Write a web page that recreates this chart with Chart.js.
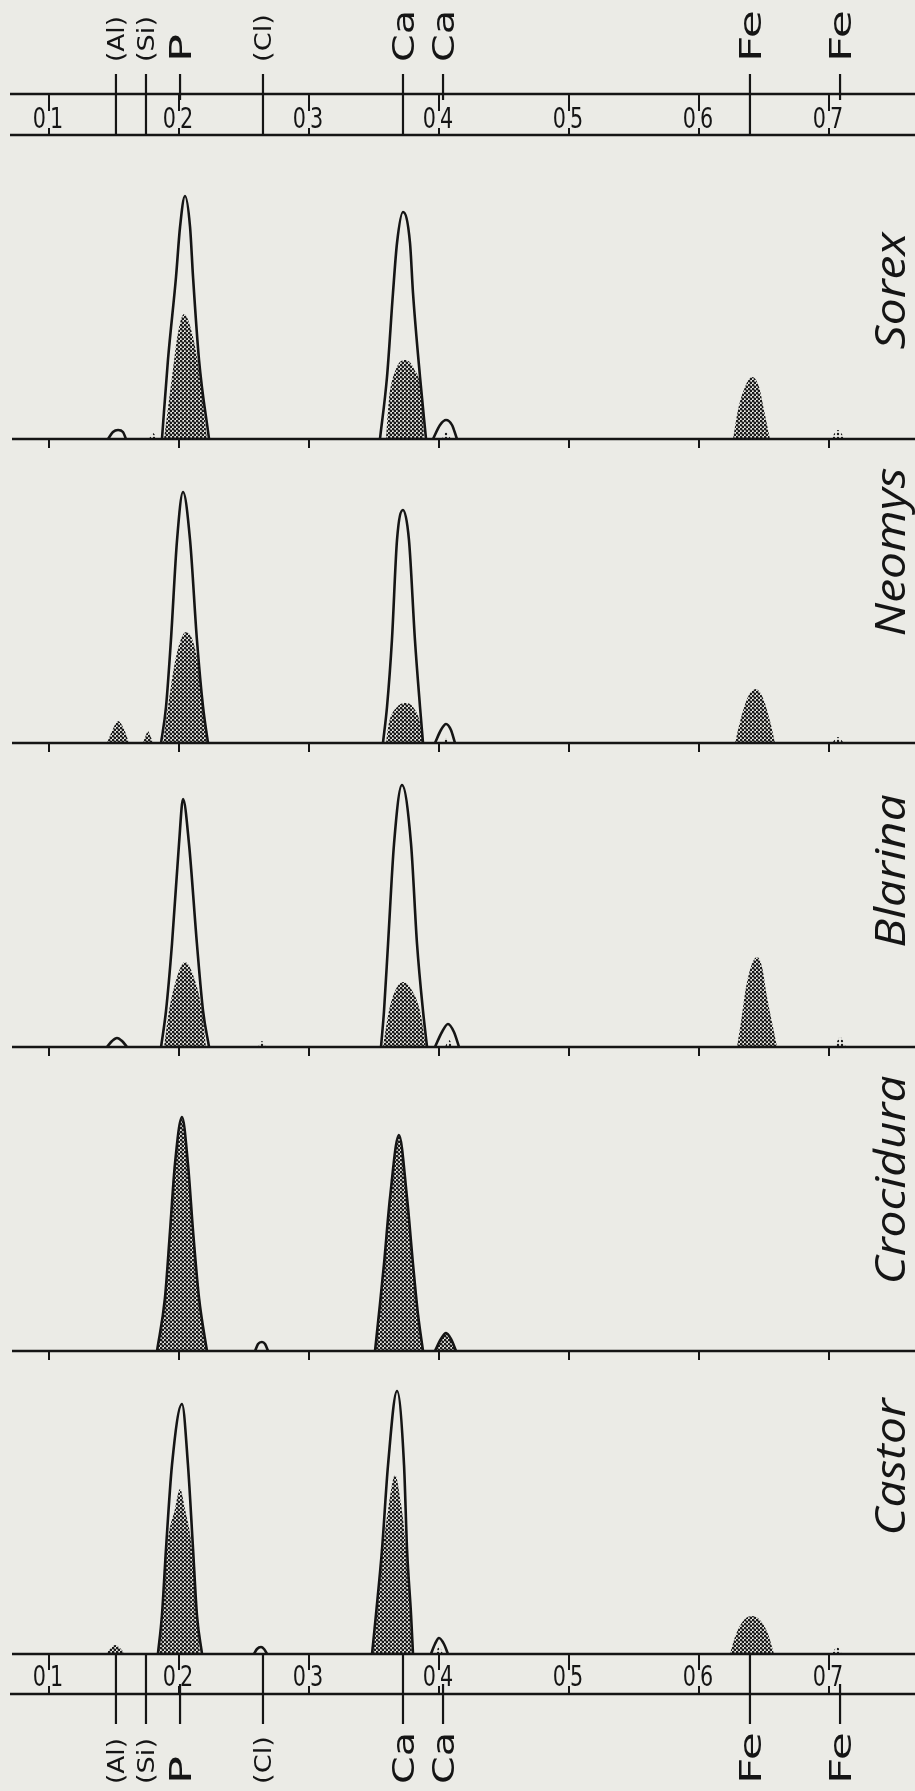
<!DOCTYPE html>
<html>
<head>
<meta charset="utf-8">
<script src="https://cdn.jsdelivr.net/npm/chart.js@4.4.0/dist/chart.umd.min.js"></script>
<style>
  html, body { margin: 0; padding: 0; background: #ebebe6; }
  #wrap { position: relative; width: 915px; height: 1791px; overflow: hidden; }
  #wrap canvas { position: absolute; left: 0; }
</style>
</head>
<body>
<div id="wrap"></div>
<script>
// energy axis (keV/10) and the element lines
const tickValues = [0.1, 0.2, 0.3, 0.4, 0.5, 0.6, 0.7];
const tickLabels = ['0,1', '0,2', '0,3', '0,4', '0,5', '0,6', '0,7'];
const elementNames = ['(Al)', '(Si)', 'P', '(Cl)', 'Ca', 'Ca', 'Fe', 'Fe'];
const elementEnergy = [0.1515, 0.1746, 0.2008, 0.2646, 0.3723, 0.4031, 0.6392, 0.7085];
const elementThrough = [true, true, false, true, true, false, true, false];
const species = ['Sorex', 'Neomys', 'Blarina', 'Crocidura', 'Castor'];

// peaks as [energy, height] -- open = outline only, shaded = dense dots, sparse = light dots
const sorexOpen = [
  [[0.1454, 0], [0.1492, 7], [0.1531, 9], [0.1569, 7], [0.1592, 0]],
  [[0.1869, 0], [0.1915, 79], [0.1977, 162], [0.2008, 212], [0.2046, 243], [0.2085, 212], [0.2108, 162], [0.2154, 79], [0.2231, 0]],
  [[0.3546, 0], [0.3600, 62], [0.3646, 146], [0.3677, 196], [0.3723, 227], [0.3777, 196], [0.3800, 146], [0.3854, 62], [0.3900, 0]],
  [[0.3954, 0], [0.4008, 14], [0.4054, 19], [0.4100, 14], [0.4138, 0]]
];
const sorexShaded = [
  [[0.1885, 0], [0.1946, 62], [0.1992, 106], [0.2038, 125], [0.2100, 106], [0.2162, 62], [0.2215, 0]],
  [[0.3592, 0], [0.3615, 39], [0.3669, 70], [0.3738, 79], [0.3808, 70], [0.3869, 39], [0.3885, 0]],
  [[0.6262, 0], [0.6300, 29], [0.6354, 52], [0.6408, 62], [0.6462, 52], [0.6500, 29], [0.6546, 0]]
];
const sorexSparse = [
  [[0.1769, 0], [0.1800, 6], [0.1831, 0]],
  [[0.4023, 0], [0.4054, 7], [0.4092, 0]],
  [[0.7015, 0], [0.7069, 9], [0.7123, 0]]
];

const neomysOpen = [
  [[0.1862, 0], [0.1900, 36], [0.1938, 103], [0.1985, 203], [0.2031, 251], [0.2085, 203], [0.2138, 103], [0.2185, 36], [0.2223, 0]],
  [[0.3569, 0], [0.3600, 36], [0.3638, 103], [0.3677, 203], [0.3723, 233], [0.3769, 203], [0.3815, 103], [0.3854, 36], [0.3877, 0]],
  [[0.3969, 0], [0.4015, 13], [0.4054, 19], [0.4092, 13], [0.4123, 0]]
];
const neomysShaded = [
  [[0.1446, 0], [0.1492, 14], [0.1531, 22], [0.1577, 14], [0.1615, 0]],
  [[0.1723, 0], [0.1746, 8], [0.1761, 12], [0.1777, 8], [0.1800, 0]],
  [[0.1877, 0], [0.1915, 36], [0.1977, 86], [0.2054, 111], [0.2138, 86], [0.2185, 36], [0.2215, 0]],
  [[0.3592, 0], [0.3615, 20], [0.3677, 36], [0.3738, 40], [0.3800, 36], [0.3854, 20], [0.3877, 0]],
  [[0.6277, 0], [0.6323, 25], [0.6380, 47], [0.6438, 54], [0.6492, 45], [0.6546, 22], [0.6585, 0]]
];
const neomysSparse = [
  [[0.4031, 0], [0.4054, 5], [0.4077, 0]],
  [[0.7023, 0], [0.7069, 6], [0.7115, 0]]
];

const blarinaOpen = [
  [[0.1446, 0], [0.1485, 6], [0.1523, 9], [0.1562, 6], [0.1600, 0]],
  [[0.1862, 0], [0.1900, 36], [0.1946, 103], [0.2000, 203], [0.2031, 248], [0.2077, 203], [0.2138, 103], [0.2185, 36], [0.2231, 0]],
  [[0.3554, 0], [0.3577, 36], [0.3608, 103], [0.3654, 203], [0.3715, 262], [0.3785, 203], [0.3831, 103], [0.3877, 36], [0.3908, 0]],
  [[0.3969, 0], [0.4023, 15], [0.4069, 23], [0.4115, 15], [0.4154, 0]]
];
const blarinaShaded = [
  [[0.1885, 0], [0.1923, 36], [0.1969, 63], [0.2046, 85], [0.2131, 63], [0.2177, 36], [0.2208, 0]],
  [[0.3569, 0], [0.3615, 36], [0.3669, 58], [0.3723, 65], [0.3785, 58], [0.3854, 36], [0.3900, 0]],
  [[0.6292, 0], [0.6323, 25], [0.6362, 60], [0.6410, 84], [0.6446, 90], [0.6485, 80], [0.6523, 50], [0.6569, 20], [0.6600, 0]]
];
const blarinaSparse = [
  [[0.2608, 0], [0.2638, 6], [0.2669, 0]],
  [[0.4046, 0], [0.4077, 7], [0.4108, 0]],
  [[0.7046, 0], [0.7085, 10], [0.7131, 0]]
];

const crociduraOpen = [
  [[0.2585, 0], [0.2608, 7], [0.2638, 9], [0.2662, 7], [0.2685, 0]]
];
const crociduraShaded = [
  [[0.1831, 0], [0.1892, 53], [0.1931, 120], [0.1969, 187], [0.2023, 234], [0.2069, 187], [0.2108, 120], [0.2154, 53], [0.2215, 0]],
  [[0.3508, 0], [0.3538, 37], [0.3577, 87], [0.3623, 153], [0.3692, 216], [0.3754, 153], [0.3800, 87], [0.3838, 37], [0.3877, 0]],
  [[0.3969, 0], [0.4015, 12], [0.4054, 18], [0.4092, 12], [0.4131, 0]]
];
const crociduraSparse = [];

const castorOpen = [
  [[0.1838, 0], [0.1869, 39], [0.1900, 105], [0.1946, 189], [0.2023, 250], [0.2069, 189], [0.2108, 105], [0.2138, 39], [0.2177, 0]],
  [[0.2577, 0], [0.2600, 5], [0.2631, 7], [0.2654, 5], [0.2677, 0]],
  [[0.3485, 0], [0.3515, 39], [0.3562, 105], [0.3608, 189], [0.3677, 263], [0.3731, 189], [0.3754, 105], [0.3785, 39], [0.3800, 0]],
  [[0.3938, 0], [0.3969, 10], [0.4000, 16], [0.4038, 10], [0.4069, 0]]
];
const castorShaded = [
  [[0.1438, 0], [0.1477, 6], [0.1508, 9], [0.1546, 6], [0.1585, 0]],
  [[0.1846, 0], [0.1877, 39], [0.1908, 105], [0.1969, 145], [0.2008, 165], [0.2046, 145], [0.2100, 105], [0.2138, 39], [0.2162, 0]],
  [[0.3492, 0], [0.3523, 39], [0.3569, 105], [0.3615, 150], [0.3662, 179], [0.3708, 150], [0.3746, 105], [0.3777, 39], [0.3792, 0]],
  [[0.6238, 0], [0.6285, 20], [0.6346, 34], [0.6408, 38], [0.6469, 34], [0.6531, 20], [0.6577, 0]]
];
const castorSparse = [
  [[0.3977, 0], [0.4000, 8], [0.4031, 0]],
  [[0.7023, 0], [0.7062, 7], [0.7100, 0]]
];

// layout
const W = 915, H = 1791;
const X_MIN = 0.1 - 49 / 1300, X_MAX = X_MIN + W / 1300;
const topBarBottom = 135;
const baselines = [439, 743, 1047, 1351, 1654];
const labelCenters = [291, 552, 871, 1180, 1467];
const INK = '#151515';

function makePattern(dense) {
  const c = document.createElement('canvas');
  c.width = 4; c.height = 4;
  const g = c.getContext('2d');
  g.fillStyle = '#1a1a1a';
  const dot = (x, y, r) => { g.beginPath(); g.arc(x, y, r, 0, Math.PI * 2); g.fill(); };
  if (dense) {
    dot(1, 1, 1.4);
    dot(3, 3, 1.4);
  } else {
    dot(2, 2, 1.2);
  }
  return g.createPattern(c, 'repeat');
}
const densePattern = makePattern(true);
const sparsePattern = makePattern(false);

const panels = [
  { open: sorexOpen, shaded: sorexShaded, sparse: sorexSparse, outlined: false },
  { open: neomysOpen, shaded: neomysShaded, sparse: neomysSparse, outlined: false },
  { open: blarinaOpen, shaded: blarinaShaded, sparse: blarinaSparse, outlined: false },
  { open: crociduraOpen, shaded: crociduraShaded, sparse: crociduraSparse, outlined: true },
  { open: castorOpen, shaded: castorShaded, sparse: castorSparse, outlined: false }
];

function vLabel(ctx, text, cx, yStart, font, capH, len) {
  ctx.save();
  ctx.font = font;
  const w = ctx.measureText(text).width;
  ctx.translate(cx + capH / 2, yStart);
  ctx.rotate(-Math.PI / 2);
  ctx.scale(len / w, 1);
  ctx.textAlign = 'left';
  ctx.textBaseline = 'alphabetic';
  ctx.fillText(text, 0, 0);
  ctx.restore();
}

function tickLabel(ctx, text, px, baseY) {
  const parts = text.split(',');
  const sx = 0.74;
  ctx.save();
  ctx.font = '28px "DejaVu Sans"';
  ctx.translate(px, baseY);
  ctx.scale(sx, 1);
  ctx.textBaseline = 'alphabetic';
  ctx.textAlign = 'right';
  ctx.fillText(parts[0], -3 / sx, 0);
  ctx.textAlign = 'left';
  ctx.fillText(parts[1], 1 / sx, 0);
  ctx.restore();
}

function line(ctx, x0, y0, x1, y1, w) {
  ctx.lineWidth = w;
  ctx.beginPath();
  ctx.moveTo(x0, y0);
  ctx.lineTo(x1, y1);
  ctx.stroke();
}

// lettering of the element names
const labelLen = { '(Al)': 46, '(Si)': 46, 'P': 28, '(Cl)': 48, 'Ca': 52, 'Fe': 52 };
function elementLabel(ctx, name, px, yStart) {
  const minor = name.startsWith('(');
  const font = minor ? '23px "DejaVu Sans"' : '30px "DejaVu Sans"';
  const capH = minor ? 16.8 : 22;
  vLabel(ctx, name, px, yStart, font, capH, labelLen[name]);
}

const decor = {
  id: 'decor',
  afterDatasetsDraw(chart, args, opts) {
    const { ctx, chartArea, scales } = chart;
    const x = scales.x;
    const i = opts.panel;
    const yb = chartArea.bottom;
    const off = chart.canvas.offsetTop;
    ctx.save();
    ctx.strokeStyle = INK;
    ctx.fillStyle = INK;
    line(ctx, 12, yb, W, yb, 2.6);
    if (i < 4) {
      tickValues.forEach(v => {
        const px = x.getPixelForValue(v);
        line(ctx, px, yb, px, yb + 9, 2);
      });
    }
    if (i === 0) {
      const yt = 94, ybot = chartArea.top;
      line(ctx, 10, yt, W, yt, 2.6);
      line(ctx, 10, ybot, W, ybot, 2.6);
      tickValues.forEach((v, k) => {
        const px = x.getPixelForValue(v);
        line(ctx, px, yt, px, yt + 17, 2);
        line(ctx, px, ybot - 7, px, ybot, 2);
        tickLabel(ctx, tickLabels[k], px, ybot - 7);
      });
      elementEnergy.forEach((v, k) => {
        const px = x.getPixelForValue(v);
        line(ctx, px, 74, px, elementThrough[k] ? ybot : 100, 2.2);
        elementLabel(ctx, elementNames[k], px, 62);
      });
    }
    if (i === 4) {
      line(ctx, 10, yb + 40, W, yb + 40, 2.6);
      tickValues.forEach((v, k) => {
        const px = x.getPixelForValue(v);
        line(ctx, px, yb, px, yb + 16, 2);
        line(ctx, px, yb + 32, px, yb + 40, 2);
        tickLabel(ctx, tickLabels[k], px, yb + 32);
      });
      elementEnergy.forEach((v, k) => {
        const px = x.getPixelForValue(v);
        line(ctx, px, elementThrough[k] ? yb : yb + 30, px, yb + 70, 2.2);
        elementLabel(ctx, elementNames[k], px, 1784 - off);
      });
    }
    // species name, reading upward
    ctx.save();
    ctx.font = 'italic 42px "Open Sans"';
    ctx.translate(905, labelCenters[i] - off);
    ctx.rotate(-Math.PI / 2);
    ctx.scale(1.14, 1);
    ctx.textAlign = 'center';
    ctx.textBaseline = 'alphabetic';
    ctx.fillText(species[i], 0, 0);
    ctx.restore();
    ctx.restore();
  }
};

const wrap = document.getElementById('wrap');
panels.forEach((p, i) => {
  const top = i === 0 ? topBarBottom : baselines[i - 1];
  const padTop = i === 0 ? topBarBottom : 0;
  const padBottom = i === 4 ? H - baselines[4] : 14;
  const canvasTop = top - padTop;
  const height = padTop + (baselines[i] - top) + padBottom;
  const canvas = document.createElement('canvas');
  canvas.width = W;
  canvas.height = height;
  canvas.style.width = W + 'px';
  canvas.style.height = height + 'px';
  canvas.style.top = canvasTop + 'px';
  wrap.appendChild(canvas);

  const datasets = [];
  p.open.forEach(pts => datasets.push({
    data: pts, borderColor: INK, borderWidth: 2.6, fill: false,
    pointRadius: 0, cubicInterpolationMode: 'monotone', order: 0
  }));
  p.shaded.forEach(pts => datasets.push({
    data: pts, borderColor: p.outlined ? INK : 'rgba(0,0,0,0)', borderWidth: p.outlined ? 2.6 : 0,
    backgroundColor: densePattern, fill: 'origin',
    pointRadius: 0, cubicInterpolationMode: 'monotone', order: 1
  }));
  p.sparse.forEach(pts => datasets.push({
    data: pts, borderColor: 'rgba(0,0,0,0)', borderWidth: 0,
    backgroundColor: sparsePattern, fill: 'origin',
    pointRadius: 0, cubicInterpolationMode: 'monotone', order: 2
  }));

  new Chart(canvas.getContext('2d'), {
    type: 'line',
    data: { datasets },
    options: {
      responsive: false,
      animation: false,
      events: [],
      layout: { padding: { top: padTop, bottom: padBottom, left: 0, right: 0 } },
      scales: {
        x: { type: 'linear', min: X_MIN, max: X_MAX, display: false },
        y: { min: 0, max: baselines[i] - top, display: false }
      },
      plugins: {
        legend: { display: false },
        tooltip: { enabled: false },
        decor: { panel: i }
      }
    },
    plugins: [decor]
  });
});
</script>
</body>
</html>
